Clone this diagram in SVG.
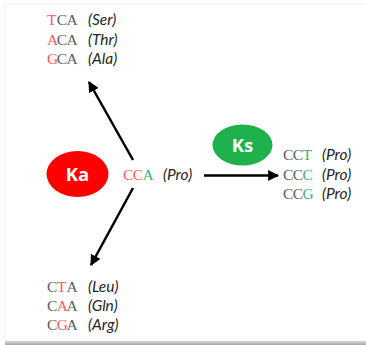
<svg xmlns="http://www.w3.org/2000/svg" width="366" height="345" viewBox="0 0 366 345">
<style>
.c{font-family:"Liberation Serif","Times New Roman",serif;font-size:15.5px;fill:#5c5c5c}
.r{fill:#ff5a5a}
.g{fill:#3cb371}
.a{font-family:Lato,"Open Sans","Liberation Sans",sans-serif;font-style:italic;font-size:15.5px;fill:#262626}
.lbl{font-family:"Open Sans","Liberation Sans",sans-serif;font-weight:bold;font-size:18.5px;fill:#fff;text-anchor:middle}
.ln{stroke:#000;stroke-width:2.5;fill:none}
</style>
<defs>
<marker id="ah" viewBox="0 0 10 10" refX="9" refY="5" markerWidth="4.4" markerHeight="4.4" orient="auto" markerUnits="strokeWidth">
<path d="M0,0 L10,5 L0,10 z" fill="#000"/>
</marker>
<linearGradient id="sh" x1="0" y1="0" x2="0" y2="1">
<stop offset="0" stop-color="#d8d8d8"/>
<stop offset="1" stop-color="#a8a8a8"/>
</linearGradient>
</defs>
<rect width="366" height="345" fill="#fff"/>
<g id="frame">
<rect x="5" y="4" width="370" height="337" fill="none" stroke="#f0f0f0" stroke-width="1"/>
<rect x="5" y="341" width="361" height="4" fill="url(#sh)"/>
</g>
<g id="connectors">
<line class="ln" x1="133" y1="160" x2="89" y2="82" marker-end="url(#ah)"/>
<line class="ln" x1="133" y1="188" x2="91" y2="265" marker-end="url(#ah)"/>
<line class="ln" x1="204" y1="175.5" x2="278" y2="175.5" marker-end="url(#ah)"/>
</g>
<g id="node-ka">
<ellipse cx="77.5" cy="174" rx="31" ry="23" fill="#ff0000"/>
<text class="lbl" x="77.5" y="180.5">Ka</text>
</g>
<g id="node-ks">
<ellipse cx="242.5" cy="145" rx="30" ry="20.5" fill="#1fb14c"/>
<text class="lbl" x="242.5" y="151.5">Ks</text>
</g>
<g id="node-cca">
<text class="c" x="123 132.7 142.4" y="180"><tspan class="r">CC</tspan><tspan class="g">A</tspan></text>
<text class="a" x="163" y="180">(Pro)</text>
</g>
<g id="node-top">
<text class="c" x="47 56.7 66.4" y="25"><tspan class="r">T</tspan>CA</text>
<text class="a" x="88" y="25">(Ser)</text>
<text class="c" x="47 56.7 66.4" y="44.5"><tspan class="r">A</tspan>CA</text>
<text class="a" x="88" y="44.5">(Thr)</text>
<text class="c" x="47 56.7 66.4" y="64"><tspan class="r">G</tspan>CA</text>
<text class="a" x="88" y="64">(Ala)</text>
</g>
<g id="node-right">
<text class="c" x="283 292.7 302.4" y="160">CC<tspan class="g">T</tspan></text>
<text class="a" x="322" y="160">(Pro)</text>
<text class="c" x="283 292.7 302.4" y="179.5">CC<tspan class="g">C</tspan></text>
<text class="a" x="322" y="179.5">(Pro)</text>
<text class="c" x="283 292.7 302.4" y="199">CC<tspan class="g">G</tspan></text>
<text class="a" x="322" y="199">(Pro)</text>
</g>
<g id="node-bottom">
<text class="c" x="47 56.7 66.4" y="291.5">C<tspan class="r">T</tspan>A</text>
<text class="a" x="88" y="291.5">(Leu)</text>
<text class="c" x="47 56.7 66.4" y="310.5">C<tspan class="r">A</tspan>A</text>
<text class="a" x="88" y="310.5">(Gln)</text>
<text class="c" x="47 56.7 66.4" y="329.5">C<tspan class="r">G</tspan>A</text>
<text class="a" x="88" y="329.5">(Arg)</text>
</g>
</svg>
